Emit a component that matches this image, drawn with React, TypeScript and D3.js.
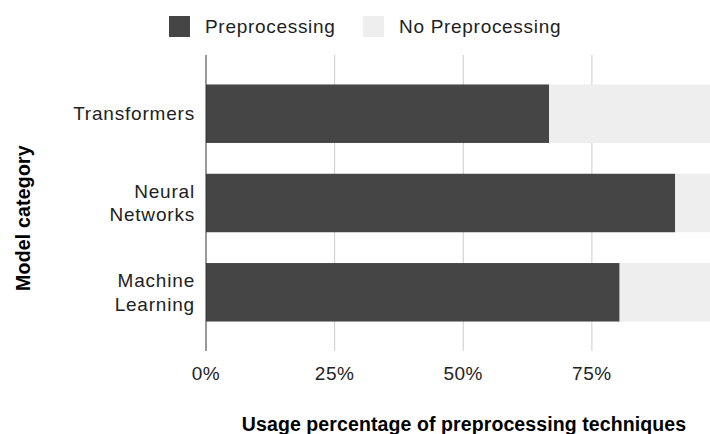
import React, { useEffect, useRef } from 'react'
import * as d3 from 'd3'

const categories = ['Transformers', 'Neural Networks', 'Machine Learning']
const categoryLines = [['Transformers'], ['Neural', 'Networks'], ['Machine', 'Learning']]
const preprocessing = [66.7, 91.2, 80.4]
const noPreprocessing = [33.3, 8.8, 19.6]
const seriesNames = ['Preprocessing', 'No Preprocessing']
const seriesColors = ['#454545', '#eeeeee']
const xTicks = [0, 25, 50, 75]

export default function App() {
    const svgRef = useRef<SVGSVGElement>(null)
    const width = 710
    const height = 434

    useEffect(() => {
        if (!svgRef.current) return
        const svg = d3.select(svgRef.current)
        svg.selectAll('*').remove()

        const font = 'Arial, "Liberation Sans", sans-serif'
        const top = 55
        const bottom = 351

        const x = d3.scaleLinear().domain([0, 100]).range([206, 720.5])
        const y = d3.scaleBand()
            .domain(categories)
            .range([top, bottom])
            .paddingInner(0.345)
            .paddingOuter(0.33)

        const rows = categories.map((c, i) => ({
            category: c,
            Preprocessing: preprocessing[i],
            'No Preprocessing': noPreprocessing[i],
        }))
        const stack = d3.stack<any>().keys(seriesNames)(rows)

        // Gridlines
        svg.append('g')
            .selectAll('line')
            .data(xTicks.filter(t => t > 0))
            .enter().append('line')
            .attr('x1', d => x(d)).attr('x2', d => x(d))
            .attr('y1', top).attr('y2', bottom)
            .attr('stroke', '#cccccc')
            .attr('stroke-width', 1)

        // Bars
        svg.append('g')
            .selectAll('g')
            .data(stack)
            .enter().append('g')
            .attr('fill', (_d, i) => seriesColors[i])
            .selectAll('rect')
            .data(d => d)
            .enter().append('rect')
            .attr('x', d => x(d[0]))
            .attr('y', d => y(d.data.category) || 0)
            .attr('width', d => x(d[1]) - x(d[0]))
            .attr('height', y.bandwidth())

        // Baseline
        svg.append('line')
            .attr('x1', x(0)).attr('x2', x(0))
            .attr('y1', top).attr('y2', bottom)
            .attr('stroke', '#333333')
            .attr('stroke-width', 1)

        // X tick labels
        svg.append('g')
            .selectAll('text')
            .data(xTicks)
            .enter().append('text')
            .attr('x', d => x(d))
            .attr('y', 380)
            .attr('text-anchor', 'middle')
            .attr('font-family', font)
            .attr('font-size', 19)
            .attr('letter-spacing', 0.5)
            .attr('fill', '#222222')
            .text(d => `${d}%`)

        // Category labels
        const lineH = 23.5
        svg.append('g')
            .selectAll('text')
            .data(categories)
            .enter().append('text')
            .attr('text-anchor', 'end')
            .attr('font-family', font)
            .attr('font-size', 19)
            .attr('letter-spacing', 0.8)
            .attr('fill', '#222222')
            .each(function (d, i) {
                const lines = categoryLines[i]
                const cy = (y(d) || 0) + y.bandwidth() / 2
                const start = cy + 6.5 - ((lines.length - 1) * lineH) / 2
                lines.forEach((l, j) => {
                    d3.select(this).append('tspan')
                        .attr('x', 195)
                        .attr('y', start + j * lineH)
                        .text(l)
                })
            })

        // Axis titles
        svg.append('text')
            .attr('x', 464)
            .attr('y', 431)
            .attr('text-anchor', 'middle')
            .attr('font-family', font)
            .attr('font-size', 19.5)
            .attr('font-weight', 'bold')
            .attr('letter-spacing', 0.1)
            .attr('fill', '#000000')
            .text('Usage percentage of preprocessing techniques')

        svg.append('text')
            .attr('transform', 'translate(30,218) rotate(-90)')
            .attr('text-anchor', 'middle')
            .attr('font-family', font)
            .attr('font-size', 19.5)
            .attr('font-weight', 'bold')
            .attr('letter-spacing', 0.2)
            .attr('fill', '#000000')
            .text('Model category')

        // Legend
        const legendX = [169, 363]
        const legend = svg.append('g')
            .selectAll('g')
            .data(seriesNames)
            .enter().append('g')
            .attr('transform', (_d, i) => `translate(${legendX[i]},16)`)
        legend.append('rect')
            .attr('width', 21).attr('height', 21)
            .attr('fill', (_d, i) => seriesColors[i])
        legend.append('text')
            .attr('x', 36)
            .attr('y', 17)
            .attr('font-family', font)
            .attr('font-size', 19)
            .attr('letter-spacing', 0.7)
            .attr('fill', '#222222')
            .text(d => d)
    }, [])

    return (
        <div style={{ position: 'absolute', left: 0, top: 0, width, height, overflow: 'hidden', background: '#fff' }}>
            <svg ref={svgRef} width={width} height={height} viewBox={`0 0 ${width} ${height}`} style={{ display: 'block' }} />
        </div>
    )
}
